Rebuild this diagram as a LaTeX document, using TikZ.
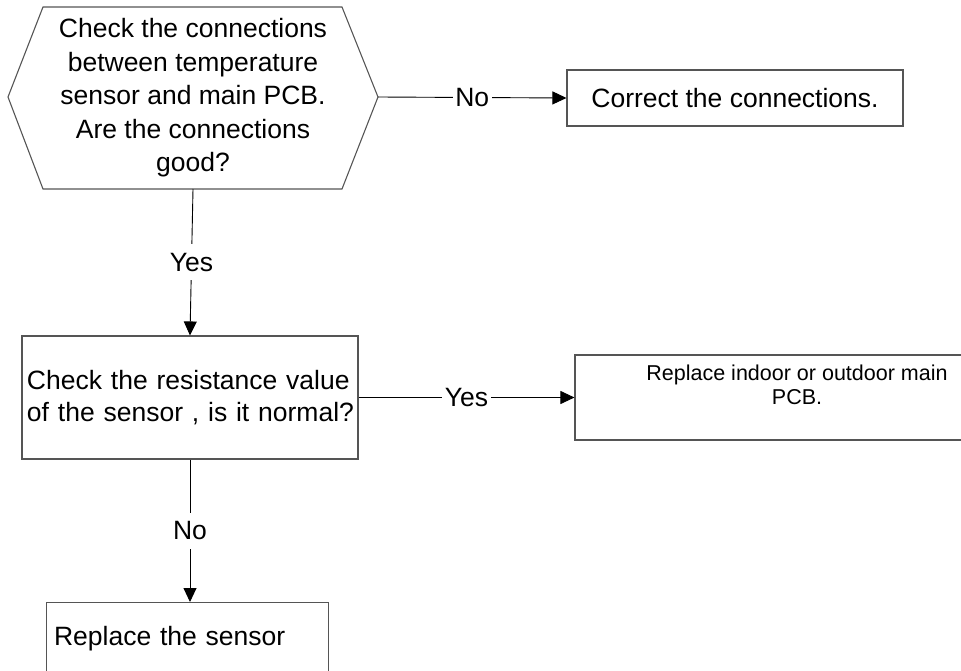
\documentclass[tikz,border=0pt]{standalone}
\usepackage{fontspec}
\setmainfont{Liberation Sans}
\usetikzlibrary{arrows.meta}
\definecolor{boxgray}{RGB}{85,85,85}
\begin{document}
\begin{tikzpicture}[x=1pt,y=-1pt,
  every node/.style={font=\fontsize{26.5}{33.5}\selectfont},
  boxnode/.style={draw=boxgray, line width=1.1pt, inner sep=0pt},
  conn/.style={draw=black, line width=0.9pt, -{Triangle[length=14pt,width=13pt]}},
  lbl/.style={fill=white, inner xsep=2.5pt, inner ysep=9pt}]
\useasboundingbox (0,0) rectangle (961,671);
% hexagon decision
\coordinate (q1west) at (8,97);
\coordinate (q1east) at (378,97);
\coordinate (q1south) at (193,189);
\draw[draw=boxgray, line width=1.1pt] (q1west) -- (43,7) -- (342,7) -- (q1east) -- (342,189) -- (43,189) -- cycle;
\node[align=center] (q1) at (193,98) {Check the connections\\between temperature\\sensor and main PCB.\\Are the connections\\good?};
% correct box
\node[boxnode, minimum width=336pt, minimum height=56pt, align=center] (fix) at (735,98) {Correct the connections.};
% resistance box
\node[boxnode, minimum width=336pt, minimum height=123pt, text width=326pt, align=left, inner xsep=5pt,
  font=\fontsize{26.5}{32}\selectfont] (q2) at (190,397.5) {\mbox{Check the resistance value}\\\mbox{of the sensor , is it normal?}};
% replace PCB box
\node[boxnode, minimum width=444pt, minimum height=85pt, align=center, text depth=26pt,
  font=\fontsize{21.5}{24}\selectfont] (pcb) at (797,397.5) {Replace indoor or outdoor main\\PCB.};
% replace sensor box
\node[boxnode, anchor=north west, text width=267pt, inner xsep=7.5pt, inner ysep=0pt, align=left,
  text height=43pt, text depth=80pt] (sensor) at (46,602) {Replace the sensor};
% connectors
\draw[conn] (q1east) -- node[lbl]{No} (fix.west);
\draw[conn] (q1south) -- node[lbl]{Yes} (q2.north);
\draw[conn] (q2.east) -- node[lbl]{Yes} (pcb.west);
\draw[conn] (q2.south) -- node[lbl]{No} (sensor.north -| q2.south);
\end{tikzpicture}
\end{document}
